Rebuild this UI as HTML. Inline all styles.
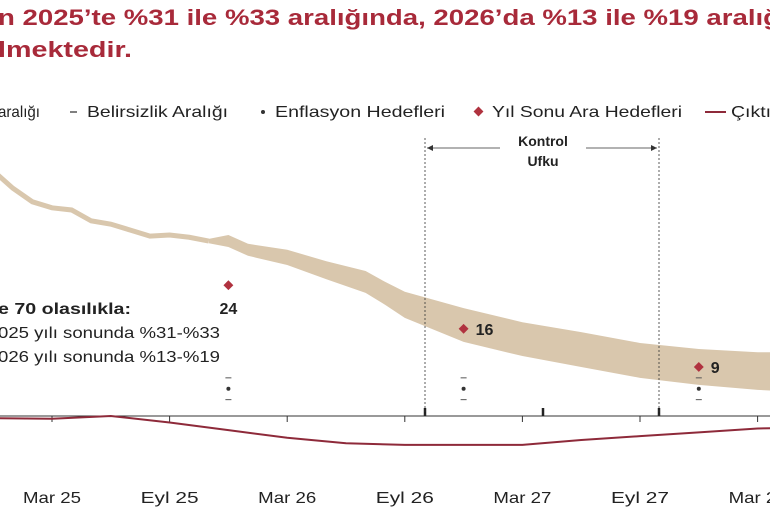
<!DOCTYPE html>
<html><head><meta charset="utf-8"><style>
body{margin:0;background:#fff;width:770px;height:510px;overflow:hidden;font-family:"Liberation Sans",sans-serif}
svg{display:block}
</style></head><body>
<svg id="c" width="770" height="510" viewBox="0 0 770 510">
<g fill="#a82a3a" font-weight="bold" font-size="22">
<text x="-2" y="25" textLength="782" lengthAdjust="spacingAndGlyphs">n 2025’te %31 ile %33 aralığında, 2026’da %13 ile %19 aralığ</text>
<text x="-2" y="57" textLength="134" lengthAdjust="spacingAndGlyphs">lmektedir.</text>
</g>
<g font-size="16" fill="#222">
<text x="-2" y="117" textLength="42" lengthAdjust="spacingAndGlyphs">aralığı</text>
<line x1="70" y1="112" x2="77" y2="112" stroke="#555" stroke-width="1.5"/>
<text x="87" y="117" textLength="141" lengthAdjust="spacingAndGlyphs">Belirsizlik Aralığı</text>
<circle cx="263" cy="112" r="2" fill="#333"/>
<text x="275" y="117" textLength="170" lengthAdjust="spacingAndGlyphs">Enflasyon Hedefleri</text>
<rect x="475" y="108" width="7" height="7" fill="#b0323f" transform="rotate(45 478.5 111.5)"/>
<text x="492" y="117" textLength="190" lengthAdjust="spacingAndGlyphs">Yıl Sonu Ara Hedefleri</text>
<line x1="705" y1="112" x2="726" y2="112" stroke="#8e2a3a" stroke-width="2"/>
<text x="731" y="117" textLength="40" lengthAdjust="spacingAndGlyphs">Çıktı</text>
</g>
<g id="plot"></g>
<g>
<line x1="425" y1="138" x2="425" y2="416" stroke="#333" stroke-width="0.8" stroke-dasharray="2,2"/>
<line x1="659" y1="138" x2="659" y2="416" stroke="#333" stroke-width="0.8" stroke-dasharray="2,2"/>
<line x1="427" y1="148" x2="500" y2="148" stroke="#333" stroke-width="0.8"/>
<path d="M427 148 l6 -3 v6z" fill="#333"/>
<line x1="586" y1="148" x2="657" y2="148" stroke="#333" stroke-width="0.8"/>
<path d="M657 148 l-6 -3 v6z" fill="#333"/>
<text x="543" y="146" text-anchor="middle" font-size="14" font-weight="bold" fill="#222">Kontrol</text>
<text x="543" y="166" text-anchor="middle" font-size="14" font-weight="bold" fill="#222">Ufku</text>
</g>
<g font-size="16" fill="#222">
<text x="-2" y="314" font-weight="bold" textLength="133" lengthAdjust="spacingAndGlyphs">e 70 olasılıkla:</text>
<text x="-2" y="338" textLength="222" lengthAdjust="spacingAndGlyphs">025 yılı sonunda %31-%33</text>
<text x="-2" y="362" textLength="222" lengthAdjust="spacingAndGlyphs">026 yılı sonunda %13-%19</text>
</g>
</svg>
<script>
const histMonths=[-3,-2,-1,0,1,2,3,4,5,6,7,8];
const histValues=[45,41.8,39.3,38.2,37.8,35.8,35.2,34.1,33,33.2,32.8,32.1];
const bandMonths=[8,9,10,12,14,16,17,18,21,24,27,30,33,36,37];
const bandHigh=[32.5,33.2,31.6,30.5,28.4,26.6,24.6,22.8,19.8,17.2,15.4,13.4,12.3,11.7,11.7];
const bandLow=[31.7,31.0,29.4,27.7,25.1,22.6,20.4,18.0,13.6,11.0,9.0,7.0,5.7,4.8,4.6];
const gapMonths=[-3,0,3,6,9,12,15,18,21,24,27,30,33,36,37];
const gapValues=[-0.4,-0.5,0,-1.2,-2.6,-4.0,-5.0,-5.3,-5.3,-5.3,-4.4,-3.7,-3.0,-2.3,-2.2];
const targetMonths=[9,21,33];
const targetValues=[24,16,9];
const inflTargetMonths=[9,21,33];
const inflTargetValues=[5,5,5];
const uncHigh=[7,7,7];
const uncLow=[3,3,3];
const tickLabels=["Mar 25","Eyl 25","Mar 26","Eyl 26","Mar 27","Eyl 27","Mar 28"];
const tickMonths=[0,6,12,18,24,30,36];

const X=m=>52+m*19.6, Y=v=>416-v*5.45;
const NS="http://www.w3.org/2000/svg", g=document.getElementById('plot');
function mk(t,a){const e=document.createElementNS(NS,t);for(const k in a)e.setAttribute(k,a[k]);g.appendChild(e);return e;}
let d=bandMonths.map((m,i)=>(i?'L':'M')+X(m)+' '+Y(bandHigh[i])).join('');
for(let i=bandMonths.length-1;i>=0;i--)d+='L'+X(bandMonths[i])+' '+Y(bandLow[i]);
let e=mk('path',{d:d+'Z',fill:'#d9c7ad'});


e=mk('polyline',{points:histMonths.map((m,i)=>X(m)+','+Y(histValues[i])).join(' '),fill:'none',stroke:'#d9c7ad','stroke-width':5});


e=mk('line',{x1:0,y1:416,x2:770,y2:416,stroke:'#333','stroke-width':1});


tickMonths.forEach((m,i)=>{
 mk('line',{x1:X(m),y1:416,x2:X(m),y2:422,stroke:'#333'});
 const t=mk('text',{x:X(m)-29,y:503,'font-size':16,fill:'#222',textLength:58,lengthAdjust:'spacingAndGlyphs'});
 t.textContent=tickLabels[i];
 
 
});
[425,543,659].forEach(x=>mk('line',{x1:x,y1:408,x2:x,y2:416,stroke:'#222','stroke-width':2.5}));
e=mk('polyline',{points:gapMonths.map((m,i)=>X(m)+','+Y(gapValues[i])).join(' '),fill:'none',stroke:'#8e2a3a','stroke-width':2});


inflTargetMonths.forEach((m,i)=>{
 const x=X(m);
 e=mk('circle',{cx:x,cy:Y(inflTargetValues[i]),r:2,fill:'#333'});
 
 
 mk('line',{x1:x-3,y1:Y(uncHigh[i]),x2:x+3,y2:Y(uncHigh[i]),stroke:'#555'});
 mk('line',{x1:x-3,y1:Y(uncLow[i]),x2:x+3,y2:Y(uncLow[i]),stroke:'#555'});
});
targetMonths.forEach((m,i)=>{
 const x=X(m),y=Y(targetValues[i]);
 e=mk('rect',{x:x-3.5,y:y-3.5,width:7,height:7,fill:'#b0323f',transform:`rotate(45 ${x} ${y})`});
 
 
 const t=i==0?mk('text',{x:x,y:y+29,'text-anchor':'middle','font-size':16,'font-weight':'bold',fill:'#222'}):mk('text',{x:x+12,y:y+6,'font-size':16,'font-weight':'bold',fill:'#222'});
 t.textContent=targetValues[i];
 
 
});
</script>
</body></html>
